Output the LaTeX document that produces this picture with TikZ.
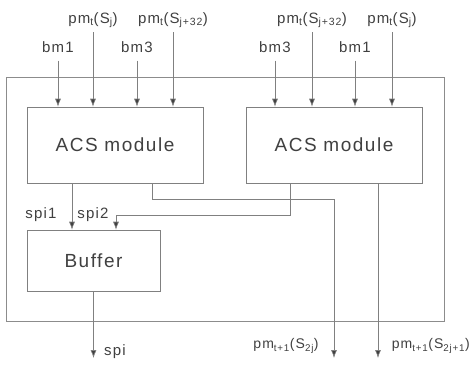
\documentclass[tikz,border=0pt]{standalone}
\usepackage{fontspec}
\setmainfont{Liberation Sans}[LetterSpace=8]
\usetikzlibrary{positioning,arrows.meta}
\tikzset{
  box/.style={draw=black!50, line width=0.6pt, text=black!75, font=\fontsize{19}{22}\selectfont},
  lbl/.style={text=black!75, inner sep=1pt, font=\fontsize{15}{17}\selectfont},
  arr/.style={draw=black!50, line width=0.6pt, -{Latex[length=8pt,width=6pt,fill=black!75]}},
  wire/.style={draw=black!45, line width=0.6pt}
}
\begin{document}
\begin{tikzpicture}[x=1pt,y=-1pt]
  \useasboundingbox (0,0) rectangle (472,368);
  % outer frame
  \draw[wire] (6,77) rectangle (444,321);
  % blocks
  \node[box, minimum width=176pt, minimum height=76pt] (acsL) at (115,145) {ACS module};
  \node[box, minimum width=176pt, minimum height=76pt] (acsR) at (334,145) {ACS module};
  \node[box, minimum width=133pt, minimum height=61pt] (buf) at (93.5,260.5) {Buffer};
  % inputs, left
  \node[lbl] (bmLa) at (58,47) {bm1};
  \node[lbl] (bmLb) at (137,47) {bm3};
  \node[lbl] (pmLa) at (93,20) {pm\textsubscript{t}(S\textsubscript{j})};
  \node[lbl] (pmLb) at (173,20) {pm\textsubscript{t}(S\textsubscript{j+32})};
  % inputs, right
  \node[lbl] (bmRa) at (275,47) {bm3};
  \node[lbl] (bmRb) at (355,47) {bm1};
  \node[lbl] (pmRa) at (312,20) {pm\textsubscript{t}(S\textsubscript{j+32})};
  \node[lbl] (pmRb) at (392,20) {pm\textsubscript{t}(S\textsubscript{j})};
  \foreach \n in {bmLa,bmLb,bmRa,bmRb}
    \draw[arr] ([yshift=-7pt]\n.south) -- (\n.south |- acsL.north);
  \foreach \n in {pmLa,pmLb,pmRa,pmRb}
    \draw[arr] ([yshift=-3pt]\n.south) -- (\n.south |- acsL.north);
  % outputs
  \coordinate (endA) at (334,358);
  \coordinate (endB) at (378,358);
  \node[lbl] (spiA) at (41,215) {spi1};
  \node[lbl] (spiB) at (93,215) {spi2};
  \node[lbl] (spi) at (115,352) {spi};
  \node[lbl, font=\fontsize{14}{16}\selectfont] (pmOa) at (286,346) {pm\textsubscript{t+1}(S\textsubscript{2j})};
  \node[lbl, font=\fontsize{14}{16}\selectfont, anchor=east] (pmOb) at (471,346) {pm\textsubscript{t+1}(S\textsubscript{2j+1})};
  \draw[arr] ([xshift=-43pt]acsL.south) -- ([xshift=-43pt]acsL.south |- buf.north);
  \draw[arr] ([xshift=-44pt]acsR.south) -- ++(0,32) -| ([xshift=22.5pt]buf.north);
  \draw[arr] ([xshift=37pt]acsL.south) -- ++(0,16) -| (endA);
  \draw[arr] ([xshift=44pt]acsR.south) -- (endB);
  \draw[arr] (buf.south) -- (buf.south |- endA);
\end{tikzpicture}
\end{document}
